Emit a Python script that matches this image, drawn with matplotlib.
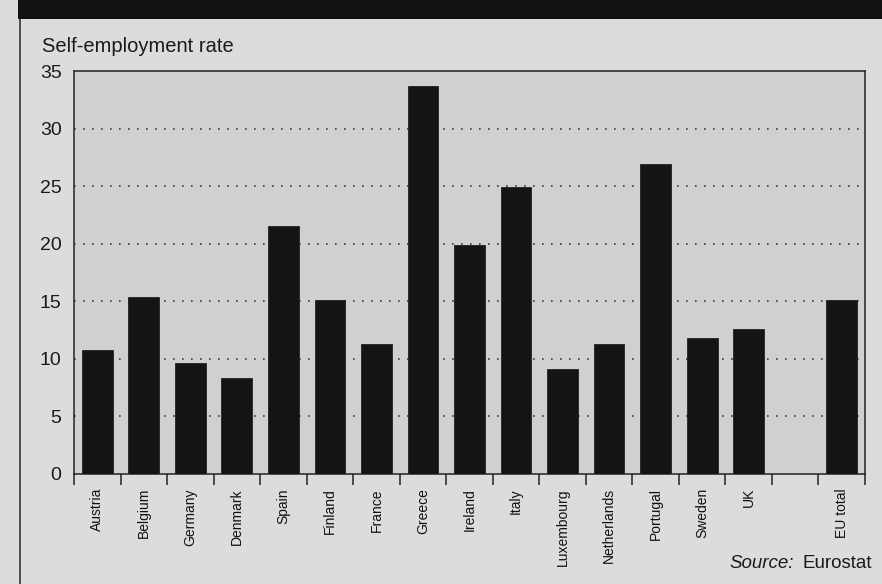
import matplotlib
matplotlib.use("Agg")
import matplotlib.pyplot as plt
from matplotlib.patches import Rectangle
from matplotlib.lines import Line2D
from matplotlib.transforms import blended_transform_factory, offset_copy

# Self-employment rate by country (%)
countries = ["Austria", "Belgium", "Germany", "Denmark", "Spain", "Finland",
             "France", "Greece", "Ireland", "Italy", "Luxembourg",
             "Netherlands", "Portugal", "Sweden", "UK", "", "EU total"]
rates = [10.8, 15.4, 9.6, 8.3, 21.5, 15.1, 11.3, 33.7, 19.9, 24.9, 9.1,
         11.3, 26.9, 11.8, 12.6, None, 15.1]
y_ticks = [0, 5, 10, 15, 20, 25, 30, 35]

W, H = 882, 584
fig = plt.figure(figsize=(W / 100, H / 100), dpi=100)
fig.patch.set_facecolor("#dcdcde")

# header band and outer frame line
fig.add_artist(Rectangle((18 / W, 1 - 19 / H), 1 - 18 / W, 19 / H,
                         transform=fig.transFigure, facecolor="#111111",
                         edgecolor="none"))
fig.add_artist(Line2D([20 / W, 20 / W], [0, 1 - 19 / H],
                      transform=fig.transFigure, color="#333333", lw=1.2))

ax_l, ax_r, ax_t, ax_b = 74, 865, 71, 474
ax = fig.add_axes([ax_l / W, 1 - ax_b / H, (ax_r - ax_l) / W, (ax_b - ax_t) / H])
ax.set_facecolor("#d0d0d3")

n = len(countries)
xs = list(range(n))
bx = [x for x, v in zip(xs, rates) if v is not None]
bv = [v for v in rates if v is not None]
ax.bar(bx, bv, width=0.66, color="#141414", edgecolor="#222222",
       linewidth=0.6, zorder=3)

ax.set_xlim(-0.5, n - 0.5)
ax.set_ylim(0, 35)

for y in y_ticks[1:-1]:
    ax.axhline(y, color="#3a3a3a", lw=1.2, linestyle=(0, (1, 4.4)), zorder=1)

ax.set_yticks(y_ticks)
ax.set_yticklabels([str(t) for t in y_ticks], fontsize=14,
                   family=["Liberation Sans", "DejaVu Sans"], color="#1a1a1a")
ax.tick_params(axis="y", length=0, pad=9)

# category labels centred in slots, ticks on slot boundaries
ax.set_xticks([x - 0.5 for x in range(n + 1)])
ax.set_xticklabels([])
ax.tick_params(axis="x", direction="out", length=8, width=1.1, color="#222222")
lab_tr = offset_copy(blended_transform_factory(ax.transData, ax.transAxes),
                     fig=fig, x=0, y=-14, units="dots")
for x, name in zip(xs, countries):
    if name:
        ax.text(x, 0, name, rotation=90, ha="center", va="top",
                fontsize=10, color="#111111", transform=lab_tr,
                family=["Liberation Sans Narrow", "Liberation Sans", "DejaVu Sans"])

for side in ["left", "right", "top", "bottom"]:
    ax.spines[side].set_color("#222222")
    ax.spines[side].set_linewidth(1.1)

fig.text(42 / W, 1 - 47 / H, "Self-employment rate", fontsize=14.5,
         va="center", ha="left", color="#1a1a1a",
         family=["Liberation Sans", "DejaVu Sans"])

fig.text(794 / W, 1 - 563 / H, "Source:", fontsize=13.5, style="italic",
         ha="right", va="center", color="#1a1a1a",
         family=["Liberation Sans", "DejaVu Sans"])
fig.text(802 / W, 1 - 563 / H, "Eurostat", fontsize=13.5,
         ha="left", va="center", color="#1a1a1a",
         family=["Liberation Sans", "DejaVu Sans"])

fig.savefig("out.png", dpi=100, facecolor=fig.get_facecolor())
